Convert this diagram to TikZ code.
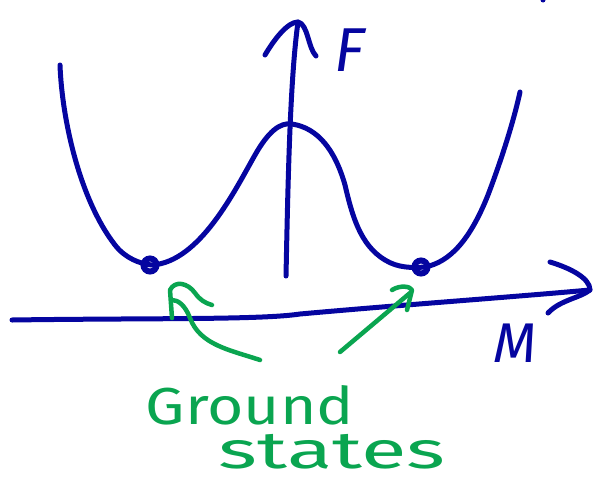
\documentclass[tikz,border=0pt]{standalone}
\usepackage{fontspec}
\setmainfont{Fira Sans}
\definecolor{ink}{RGB}{5,5,160}
\definecolor{grn}{RGB}{10,165,80}
\begin{document}
\begin{tikzpicture}[x=1pt,y=-1pt,
  pen/.style={line width=5pt,line cap=round,line join=round,ink},
  gpen/.style={line width=4.5pt,line cap=round,line join=round,grn},
  dot/.style={draw=ink,circle,minimum size=13pt,inner sep=0pt,line width=6pt},
  lbl/.style={inner sep=0pt,ink,font=\fontsize{62}{62}\selectfont\itshape},
  glbl/.style={inner sep=0pt,grn,font=\fontsize{52}{52}\selectfont}]
\useasboundingbox (0,0) rectangle (599,485);
% free energy curve
\draw[pen] (60,65) .. controls (62,120) and (80,200) .. (115,245)
  .. controls (125,258) and (140,264) .. (152,265)
  .. controls (200,262) and (235,190) .. (255,155)
  .. controls (268,132) and (280,122) .. (292,124)
  .. controls (318,128) and (335,150) .. (345,185)
  .. controls (352,215) and (360,245) .. (385,260)
  .. controls (398,268) and (412,268) .. (425,267)
  .. controls (450,262) and (470,240) .. (488,195)
  .. controls (505,150) and (515,115) .. (520,92);
% minima
\node[dot] (g1) at (150,265) {};
\node[dot] (g2) at (421,267) {};
% vertical axis
\coordinate (vb) at (286,276);
\coordinate (vt) at (298,22);
\draw[pen] (vb) .. controls (288,180) and (290,80) .. (vt);
\draw[pen] (265,55) .. controls (275,38) and (288,22) .. (vt) .. controls (308,24) and (308,48) .. (316,56);
\node[lbl] (F) at (350,50) {F};
% horizontal axis
\coordinate (hl) at (12,320);
\coordinate (hr) at (590,290);
\draw[pen] (hl) .. controls (150,318) and (260,320) .. (300,314) .. controls (400,305) and (500,298) .. (hr);
\draw[pen] (550,262) .. controls (570,268) and (590,278) .. (hr) .. controls (580,298) and (560,300) .. (548,313);
\node[lbl,font=\fontsize{56}{56}\selectfont\itshape] (M) at (515,343) {M};
% top-right speck
\fill[ink] (543,0) circle (2.5pt);
% green arrows
\coordinate (a1) at (260,360);
\draw[gpen] (a1) .. controls (230,350) and (200,345) .. (190,318) .. controls (185,305) and (178,300) .. (172,300);
\draw[gpen] (172,318) -- (170,290) .. controls (175,280) and (188,283) .. (195,293) .. controls (200,300) and (205,303) .. (212,305);
\coordinate (a2) at (340,352);
\draw[gpen] (a2) -- (410,293);
\draw[gpen] (392,290) .. controls (400,285) and (410,286) .. (412,290) -- (407,310);
% text
\node[glbl,xscale=1.2] (t1) at (250,405) {Ground};
\node[glbl,xscale=1.6] (t2) at (332,452) {states};
\end{tikzpicture}
\end{document}
